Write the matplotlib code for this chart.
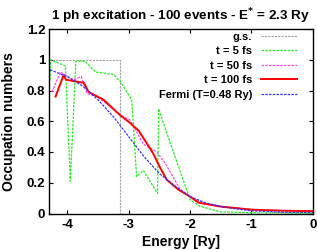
import matplotlib
matplotlib.use('Agg')
import matplotlib.pyplot as plt

plt.rcParams['font.family'] = ['Liberation Sans', 'DejaVu Sans']
plt.rcParams['font.weight'] = 'bold'
plt.rcParams['mathtext.default'] = 'bf'

# ground state
gs_e = [-4.3, -3.14, -3.14, 0.0]
gs_n = [1.0, 1.0, 0.0, 0.0]

# t = 5 fs
t5_e = [-4.28, -4.27, -4.03, -3.95, -3.86, -3.71, -3.54, -3.25, -3.14, -2.95, -2.87,
        -2.76, -2.53, -2.51, -2.35, -2.0, -1.84, -1.51, -1.0, -0.5, 0.0]
t5_n = [0.87, 1.0, 0.96, 0.21, 0.99, 0.99, 0.92, 0.905, 0.86, 0.74, 0.24,
        0.28, 0.13, 0.68, 0.49, 0.09, 0.047, 0.011, 0.005, 0.003, 0.002]

# t = 50 fs
t50_e = [-4.25, -4.11, -3.90, -3.77, -3.68, -3.52, -3.41, -3.14, -2.98, -2.76, -2.54,
         -2.41, -2.16, -2.0, -1.8, -1.5, -1.0, -0.5, 0.0]
t50_n = [0.79, 0.92, 0.87, 0.89, 0.78, 0.76, 0.73, 0.64, 0.61, 0.45, 0.40,
         0.33, 0.155, 0.11, 0.07, 0.045, 0.025, 0.02, 0.018]

# t = 100 fs
t100_e = [-4.19, -4.06, -4.02, -3.73, -3.65, -3.41, -3.14, -2.98, -2.84, -2.71, -2.60,
          -2.49, -2.38, -2.19, -2.0, -1.86, -1.5, -1.0, -0.5, 0.0]
t100_n = [0.76, 0.90, 0.87, 0.85, 0.79, 0.74, 0.64, 0.59, 0.54, 0.46, 0.39,
          0.30, 0.22, 0.155, 0.11, 0.07, 0.045, 0.025, 0.018, 0.015]

# Fermi fit
fermi_e = [-4.28, -4.0, -3.75, -3.5, -3.25, -3.0, -2.75, -2.5, -2.25, -2.0,
           -1.75, -1.5, -1.25, -1.0, -0.5, 0.0]
fermi_n = [0.935, 0.89, 0.83, 0.74, 0.63, 0.50, 0.37, 0.26, 0.18, 0.11,
           0.07, 0.045, 0.03, 0.018, 0.008, 0.005]

fig = plt.figure(figsize=(3.17, 2.5), dpi=100)
ax = fig.add_axes([0.154, 0.146, 0.833, 0.738])

dots = (0, (2, 1))
ax.plot(gs_e, gs_n, color='#a0a0a0', lw=0.8, linestyle=dots, label='g.s.')
ax.plot(t5_e, t5_n, color='#22ee22', lw=0.9, linestyle=dots, label='t = 5 fs')
ax.plot(t50_e, t50_n, color='#ff44ff', lw=0.9, linestyle=dots, label='t = 50 fs')
ax.plot(t100_e, t100_n, color='#ff0000', lw=1.4, label='t = 100 fs')
ax.plot(fermi_e, fermi_n, color='#3333ff', lw=0.9, linestyle=dots, label='Fermi (T=0.48 Ry)')

ax.set_xlim(-4.3, 0)
ax.set_ylim(0, 1.2)
ax.set_xticks([-4, -3, -2, -1, 0])
ax.set_xticklabels(['-4', '-3', '-2', '-1', '0'])
ax.set_yticks([0, 0.2, 0.4, 0.6, 0.8, 1.0, 1.2])
ax.set_yticklabels(['0', '0.2', '0.4', '0.6', '0.8', '1', '1.2'])
ax.tick_params(direction='in', top=True, right=True, labelsize=9.5, length=3, width=0.8)
ax.tick_params(axis='x', pad=4)
ax.tick_params(axis='y', pad=2.5)
for s in ax.spines.values():
    s.set_linewidth(1.0)

ax.set_xlabel('Energy [Ry]', fontsize=10, fontweight='bold', labelpad=2.5)
ax.set_ylabel('Occupation numbers', fontsize=10, fontweight='bold', labelpad=8)
ax.set_title('1 ph excitation - 100 events - E$^{*}$ = 2.3 Ry', fontsize=9.7,
             fontweight='bold', pad=6)

ax.legend(loc='upper right', bbox_to_anchor=(0.94, 0.985), markerfirst=False,
          frameon=False, fontsize=8.0, handlelength=3.2, labelspacing=0.4,
          borderaxespad=0, borderpad=0, handletextpad=0.85)

fig.savefig('out.png', dpi=100)
